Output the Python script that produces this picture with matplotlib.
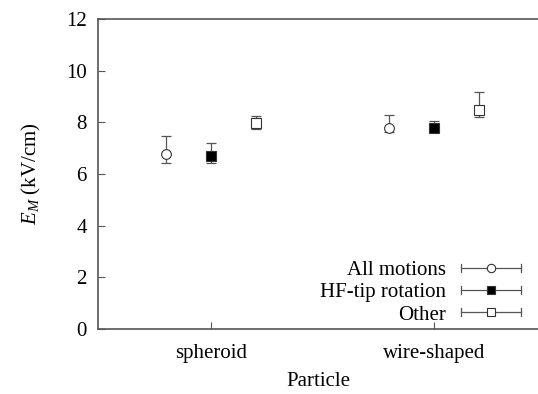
import matplotlib
matplotlib.use("Agg")
import matplotlib.pyplot as plt
from matplotlib.legend_handler import HandlerBase
from matplotlib.lines import Line2D

plt.rcParams['font.family'] = ['Liberation Serif', 'DejaVu Serif']
plt.rcParams['mathtext.fontset'] = 'custom'
plt.rcParams['mathtext.rm'] = 'Liberation Serif'
plt.rcParams['mathtext.it'] = 'Liberation Serif:italic'

# data
categories = ["spheroid", "wire-shaped"]
series = ["All motions", "HF-tip rotation", "Other"]
values = [[6.76, 7.80], [6.71, 7.78], [7.99, 8.48]]
err_low = [[6.41, 7.62], [6.41, 7.62], [7.73, 8.19]]
err_high = [[7.48, 8.28], [7.21, 8.06], [8.25, 9.18]]

offsets = [-0.2, 0.0, 0.2]
markers = ["o", "s", "s"]
faces = ["white", "black", "white"]
grey = "#555555"


class CapLineHandler(HandlerBase):
    # gnuplot style key: horizontal line with end caps and marker in the middle
    def create_artists(self, legend, orig, xd, yd, width, height, fontsize, trans):
        y = height / 2 - yd
        x0, x1 = -xd, width - xd
        line = Line2D([x0, x1], [y, y], color=grey, lw=0.9)
        cap1 = Line2D([x0, x0], [y - 3, y + 3], color=grey, lw=0.9)
        cap2 = Line2D([x1, x1], [y - 3, y + 3], color=grey, lw=0.9)
        mk = Line2D([(x0 + x1) / 2], [y], marker=orig.get_marker(),
                    markersize=orig.get_markersize(),
                    markerfacecolor=orig.get_markerfacecolor(),
                    markeredgecolor=orig.get_markeredgecolor(),
                    markeredgewidth=0.8, linestyle="none")
        arts = [line, cap1, cap2, mk]
        for a in arts:
            a.set_transform(trans)
        return arts


fig = plt.figure(figsize=(5.38, 3.94), dpi=100)
ax = fig.add_axes([98 / 538, 65 / 394, 440 / 538, 310 / 394])

handles = []
for i, name in enumerate(series):
    xs = [j + 1 + offsets[i] for j in range(len(categories))]
    ylo = [v - lo for v, lo in zip(values[i], err_low[i])]
    yhi = [hi - v for v, hi in zip(values[i], err_high[i])]
    ax.errorbar(xs, values[i], yerr=[ylo, yhi], fmt="none", ecolor=grey,
                elinewidth=0.9, capsize=3.5, capthick=0.9)
    ax.plot(xs, values[i], linestyle="none", marker=markers[i],
            markersize=7, markerfacecolor=faces[i], markeredgecolor="#333333",
            markeredgewidth=0.8)
    handles.append(Line2D([], [], marker=markers[i], markersize=6,
                          markerfacecolor=faces[i], markeredgecolor="#333333",
                          linestyle="none", label=name))

ax.set_xlim(0.493, 2.466)
ax.set_ylim(0, 12)
ax.set_xticks([1, 2])
ax.set_xticklabels(categories)
ax.set_yticks(range(0, 13, 2))
ax.tick_params(direction="in", length=5, color=grey, labelsize=15, pad=8)
ax.tick_params(axis="x", pad=11)
for s in ["left", "bottom", "top"]:
    ax.spines[s].set_color(grey)
    ax.spines[s].set_linewidth(1.2)
ax.spines["right"].set_visible(False)

ax.set_xlabel("Particle", fontsize=15, labelpad=6)
ax.set_ylabel("$E_M$ (kV/cm)", fontsize=15, labelpad=17)

ax.legend(handles=handles, loc="lower right", bbox_to_anchor=(1.004, -0.046),
          frameon=False, markerfirst=False, fontsize=15, handlelength=2.9,
          handletextpad=0.7, labelspacing=0.12,
          handler_map={Line2D: CapLineHandler()})

fig.savefig("out.png", dpi=100)
